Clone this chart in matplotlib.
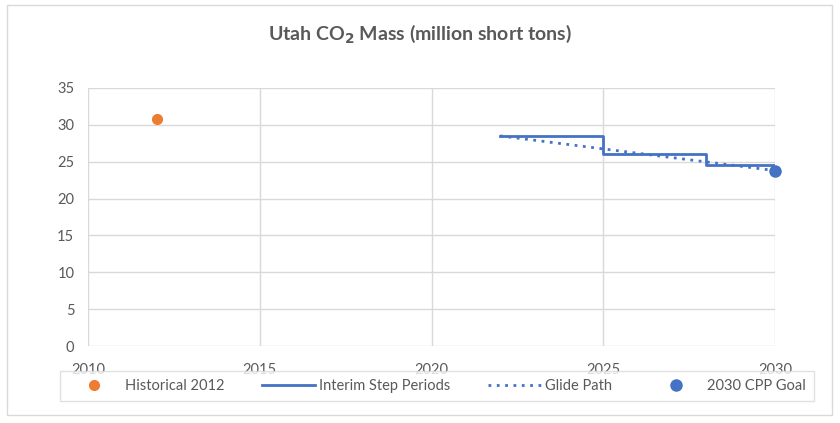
import matplotlib.pyplot as plt
from matplotlib.patches import Rectangle

plt.rcParams['font.family'] = ['Lato', 'DejaVu Sans']

# data
hist_year = [2012]
hist_val = [30.8]
step_years = [2022, 2025, 2028, 2030]
step_vals = [28.5, 26.0, 24.6, 24.6]
glide_years = [2022, 2030]
glide_vals = [28.5, 23.8]
goal_year = [2030]
goal_val = [23.8]

blue = '#4472c4'
orange = '#ed7d31'
txt = '#595959'
grid = '#d9d9d9'

fig = plt.figure(figsize=(8.4, 4.23), dpi=100)
fig.patches.append(Rectangle((7 / 840, 8 / 423), 825 / 840, 410 / 423,
                             transform=fig.transFigure, fill=False,
                             edgecolor=grid, linewidth=1))
ax = fig.add_axes([0.105, 0.182, 0.8175, 0.610])

ax.plot(hist_year, hist_val, 'o', color=orange, markersize=7, label='Historical 2012')
ax.plot(step_years, step_vals, drawstyle='steps-post', color=blue, linewidth=2,
        label='Interim Step Periods')
ax.plot(glide_years, glide_vals, linestyle=(0, (1, 2)), color=blue, linewidth=2,
        label='Glide Path')
ax.plot(goal_year, goal_val, 'o', color=blue, markersize=8, label='2030 CPP Goal',
        zorder=5, clip_on=False)

ax.set_xlim(2010, 2030)
ax.set_ylim(0, 35)
ax.set_xticks(range(2010, 2031, 5))
ax.set_yticks(range(0, 36, 5))
ax.grid(True, color=grid, linewidth=1)
ax.set_axisbelow(True)
for s in ax.spines.values():
    s.set_visible(False)
ax.tick_params(length=0, colors=txt, labelsize=10.5)
ax.tick_params(axis='x', pad=12)
ax.tick_params(axis='y', pad=10)

fig.text(0.5, 0.92, r'Utah CO$_\mathbf{2}$ Mass (million short tons)', ha='center',
         va='center', fontsize=14, fontweight='bold', color=txt)

leg = fig.legend(loc='center', bbox_to_anchor=(0.52, 0.087), ncol=4,
                 frameon=True, fancybox=False, edgecolor=grid, fontsize=10.5,
                 handlelength=3.6, handletextpad=0.3, columnspacing=2.6,
                 borderpad=0.55)
leg.get_frame().set_linewidth(1)
for t in leg.get_texts():
    t.set_color(txt)

fig.savefig('out.png', dpi=100)
